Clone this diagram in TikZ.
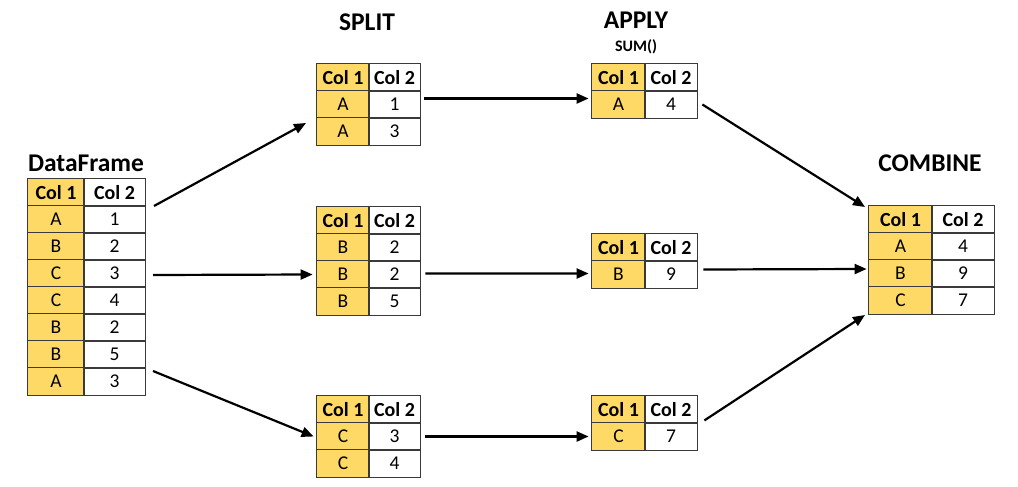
\documentclass[tikz,border=0pt]{standalone}
\usepackage{fontspec}
\setmainfont{Carlito}
\usetikzlibrary{matrix,arrows.meta}
\definecolor{keyfill}{HTML}{FFD966}
\definecolor{rule}{HTML}{3A3A3A}
\begin{document}
\begin{tikzpicture}
    [x=1pt, y=-1pt,
     cell/.style={draw=rule, line width=0.8pt, minimum height=27.8pt, inner sep=0pt, outer sep=0pt,
                  anchor=center, font=\fontsize{19.5}{21}\selectfont},
     tbl/.style 2 args={matrix of nodes, inner sep=0pt, anchor=north west,
                  column sep=-1.6pt, row sep=-1.6pt, nodes={cell},
                  row 1/.style={nodes={font=\fontsize{20}{21}\selectfont\bfseries}},
                  column 1/.style={nodes={fill=keyfill, minimum width=#1}},
                  column 2/.style={nodes={minimum width=#2}}},
     title/.style={font=\fontsize{25.5}{27}\selectfont\bfseries},
     link/.style={line width=2.2pt, -{Triangle[length=12pt,width=10pt]}}]
    \useasboundingbox (0,0) rectangle (1018,487);

    % titles
    \node[title] (dftitle) at (86,163) {DataFrame};
    \node[title] (split) at (367,22) {SPLIT};
    \node[title] (apply) at (636,20) {APPLY};
    \node[font=\fontsize{16}{18}\selectfont\bfseries] (sum) at (636,47) {SUM()};
    \node[title] (combine) at (930,163) {COMBINE};

    % tables
    \matrix[tbl={56.8pt}{61.8pt}] (df) at (27,178) {
        Col 1 & Col 2 \\
        A & 1 \\
        B & 2 \\
        C & 3 \\
        C & 4 \\
        B & 2 \\
        B & 5 \\
        A & 3 \\
    };
    \matrix[tbl={52.8pt}{51.8pt}] (s1) at (316,63) {
        Col 1 & Col 2 \\
        A & 1 \\
        A & 3 \\
    };
    \matrix[tbl={52.8pt}{51.8pt}] (s2) at (316,206) {
        Col 1 & Col 2 \\
        B & 2 \\
        B & 2 \\
        B & 5 \\
    };
    \matrix[tbl={52.8pt}{51.8pt}] (s3) at (316,395) {
        Col 1 & Col 2 \\
        C & 3 \\
        C & 4 \\
    };
    \matrix[tbl={53.8pt}{52.8pt}] (a1) at (591,63) {
        Col 1 & Col 2 \\
        A & 4 \\
    };
    \matrix[tbl={53.8pt}{52.8pt}] (a2) at (591,233) {
        Col 1 & Col 2 \\
        B & 9 \\
    };
    \matrix[tbl={53.8pt}{52.8pt}] (a3) at (591,395) {
        Col 1 & Col 2 \\
        C & 7 \\
    };
    \matrix[tbl={63.8pt}{62.8pt}] (c) at (868,205) {
        Col 1 & Col 2 \\
        A & 4 \\
        B & 9 \\
        C & 7 \\
    };

    % split
    \draw[link] ([shift={(8,28)}]df.north east) -- ([shift={(-10,-23)}]s1.south west);
    \draw[link] ([shift={(7,-12)}]df.east) -- ([shift={(-4,0)}]s2-3-1.west);
    \draw[link] ([shift={(7,-25)}]df.south east) -- ([shift={(-3,0)}]s3-2-1.west);

    % apply
    \draw[link] ([shift={(4,-6)}]s1-2-2.east) -- ([shift={(-3,-6)}]a1-2-1.west);
    \draw[link] ([shift={(5,-1)}]s2-3-2.east) -- ([shift={(-3,-1)}]a2-2-1.west);
    \draw[link] ([shift={(5,0)}]s3-2-2.east) -- ([shift={(-3,0)}]a3-2-1.west);

    % combine
    \draw[link] ([shift={(5,0)}]a1-2-2.east) -- ([shift={(-3,2)}]c.north west);
    \draw[link] ([shift={(6,-5)}]a2-2-2.east) -- ([shift={(-2,-4.5)}]c-3-1.west);
    \draw[link] ([shift={(7,-3)}]a3-1-2.south east) -- ([shift={(-3,0)}]c.south west);

\end{tikzpicture}
\end{document}
